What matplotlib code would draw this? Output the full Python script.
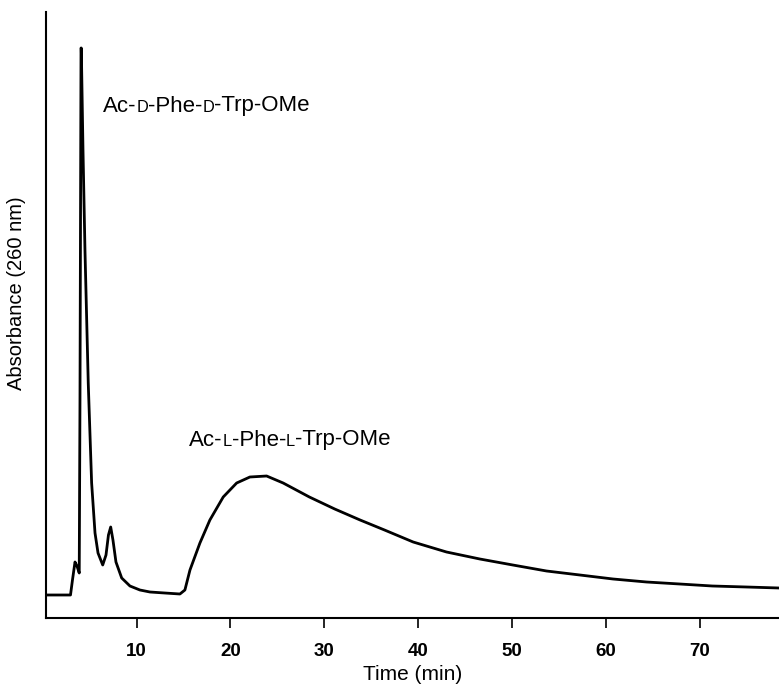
import matplotlib
matplotlib.use("Agg")
import matplotlib.pyplot as plt
from matplotlib.offsetbox import TextArea, HPacker, AnnotationBbox

# Chromatogram trace (time in min, absorbance in arbitrary units)
time_min = [0.33, 2.97, 3.18, 3.45, 3.66, 3.90, 3.98, 4.09, 4.12, 4.30, 4.51, 4.86,
            5.22, 5.58, 5.90, 6.40, 6.75, 7.01, 7.25, 7.49, 7.81, 8.42, 9.30, 10.36,
            11.43, 13.0, 14.62, 15.15, 15.69, 16.75, 17.81, 19.23, 20.66, 22.07, 23.85,
            25.61, 28.4, 31.1, 33.8, 36.4, 39.45, 43.0, 46.55, 50.06, 53.65, 57.2,
            60.73, 64.3, 67.83, 71.3, 74.93, 78.4]
absorbance = [0.23, 0.23, 0.38, 0.56, 0.52, 0.45, 2.18, 5.70, 5.70, 4.68, 3.68, 2.35,
              1.35, 0.85, 0.65, 0.53, 0.63, 0.83, 0.91, 0.78, 0.56, 0.40, 0.32, 0.28,
              0.26, 0.25, 0.24, 0.28, 0.48, 0.75, 0.98, 1.21, 1.35, 1.41, 1.42,
              1.35, 1.21, 1.09, 0.98, 0.88, 0.76, 0.66, 0.59, 0.53, 0.47, 0.43,
              0.39, 0.36, 0.34, 0.32, 0.31, 0.30]

xticks = [10, 20, 30, 40, 50, 60, 70]
xlabel = "Time (min)"
ylabel = "Absorbance (260 nm)"
# labels as (text, small-caps?) pieces
label_d = [("Ac-", False), ("D", True), ("-Phe-", False), ("D", True), ("-Trp-OMe", False)]
label_l = [("Ac-", False), ("L", True), ("-Phe-", False), ("L", True), ("-Trp-OMe", False)]
label_d_pos = (6.4, 5.12)
label_l_pos = (15.58, 1.78)

FONT = "Liberation Sans"
plt.rcParams["font.family"] = [FONT, "DejaVu Sans"]

W, H = 779, 686
fig = plt.figure(figsize=(W / 100, H / 100), dpi=100)
ax = fig.add_axes([45.7 / W, 68 / H, 1 - 45.7 / W, 606 / H])

ax.plot(time_min, absorbance, color="black", lw=2.0,
        solid_joinstyle="round", solid_capstyle="round")

ax.set_xlim(0.33, 78.4)
ax.set_ylim(0, 6.06)
ax.set_xticks(xticks)
ax.set_xticklabels([str(v) for v in xticks], fontsize=13.5, fontweight="bold")
ax.set_yticks([])
ax.tick_params(axis="x", direction="out", length=7.2, width=1.2, pad=10.5)
for s in ("top", "right"):
    ax.spines[s].set_visible(False)
for s in ("left", "bottom"):
    ax.spines[s].set_linewidth(1.5)

ax.set_xlabel(xlabel, fontsize=15, labelpad=4)
ax.set_ylabel(ylabel, fontsize=14.5)
ax.yaxis.set_label_coords(-0.027, 0.536)


def smallcaps(parts, xy):
    boxes = []
    for txt, small in parts:
        boxes.append(TextArea(txt, textprops=dict(size=11.8 if small else 16, family=FONT)))
    pack = HPacker(children=boxes, align="baseline", pad=0, sep=0)
    ab = AnnotationBbox(pack, xy, xycoords="data", box_alignment=(0, 0.5),
                        frameon=False, pad=0)
    ax.add_artist(ab)


smallcaps(label_d, label_d_pos)
smallcaps(label_l, label_l_pos)

fig.savefig("out.png", dpi=100)
